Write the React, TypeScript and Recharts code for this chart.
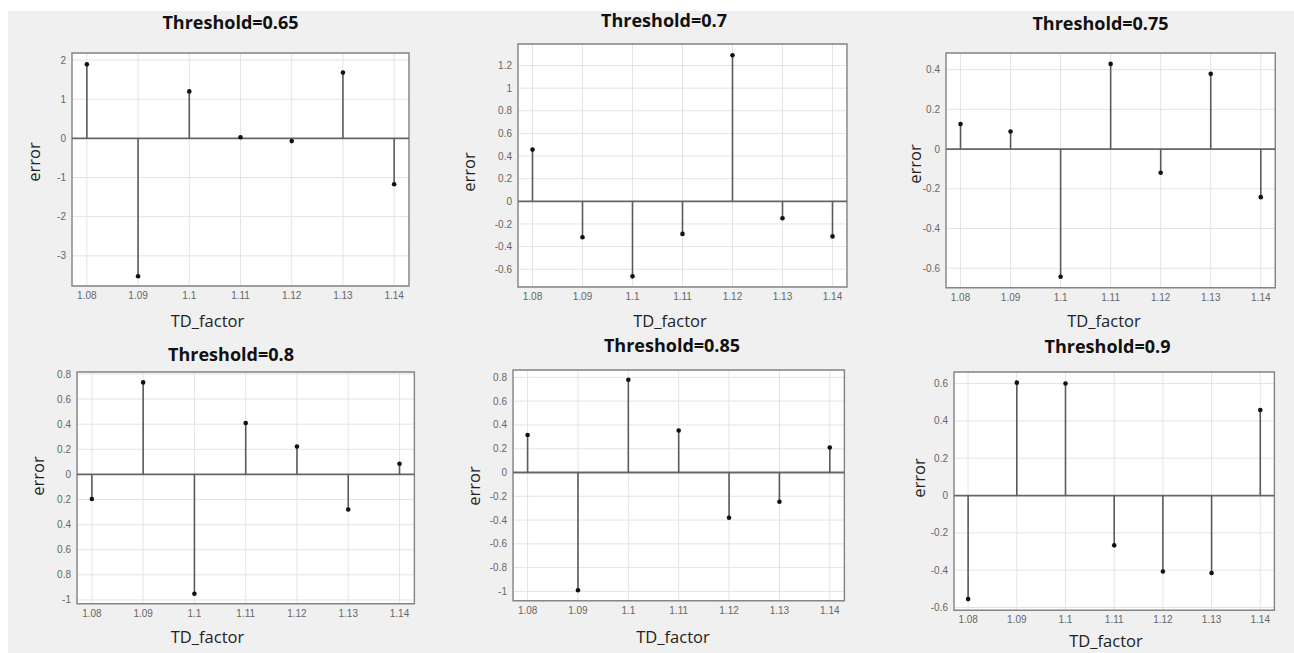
import React from 'react';
import {
  ComposedChart,
  Scatter,
  XAxis,
  YAxis,
  CartesianGrid,
  ReferenceLine,
  ReferenceArea,
} from 'recharts';

// ---------- data ----------
const tdFactors = [1.08, 1.09, 1.1, 1.11, 1.12, 1.13, 1.14];
const xTickLabels = ['1.08', '1.09', '1.1', '1.11', '1.12', '1.13', '1.14'];
const xDomain: [number, number] = [1.0771, 1.1429];

const thresholds = ['0.65', '0.7', '0.75', '0.8', '0.85', '0.9'];

const errors065 = [1.89, -3.52, 1.2, 0.03, -0.07, 1.68, -1.17];
const errors070 = [0.457, -0.318, -0.663, -0.288, 1.29, -0.15, -0.31];
const errors075 = [0.126, 0.089, -0.643, 0.429, -0.119, 0.379, -0.242];
const errors080 = [-0.196, 0.733, -0.951, 0.41, 0.223, -0.279, 0.085];
const errors085 = [0.316, -0.99, 0.78, 0.353, -0.38, -0.246, 0.21];
const errors090 = [-0.555, 0.605, 0.6, -0.267, -0.407, -0.415, 0.458];

const yTicks065 = [-3, -2, -1, 0, 1, 2];
const yLabels065 = ['-3', '-2', '-1', '0', '1', '2'];
const yTicks070 = [-0.6, -0.4, -0.2, 0, 0.2, 0.4, 0.6, 0.8, 1, 1.2];
const yLabels070 = ['-0.6', '-0.4', '-0.2', '0', '0.2', '0.4', '0.6', '0.8', '1', '1.2'];
const yTicks075 = [-0.6, -0.4, -0.2, 0, 0.2, 0.4];
const yLabels075 = ['-0.6', '-0.4', '-0.2', '0', '0.2', '0.4'];
const yTicks080 = [-1, -0.8, -0.6, -0.4, -0.2, 0, 0.2, 0.4, 0.6, 0.8];
const yLabels080 = ['-1', '0.8', '0.6', '0.4', '0.2', '0', '0.2', '0.4', '0.6', '0.8'];
const yTicks085 = [-1, -0.8, -0.6, -0.4, -0.2, 0, 0.2, 0.4, 0.6, 0.8];
const yLabels085 = ['-1', '-0.8', '-0.6', '-0.4', '-0.2', '0', '0.2', '0.4', '0.6', '0.8'];
const yTicks090 = [-0.6, -0.4, -0.2, 0, 0.2, 0.4, 0.6];
const yLabels090 = ['-0.6', '-0.4', '-0.2', '0', '0.2', '0.4', '0.6'];

const yDomains: [number, number][] = [
  [-3.77, 2.18],
  [-0.757, 1.39],
  [-0.698, 0.484],
  [-1.03, 0.816],
  [-1.078, 0.862],
  [-0.615, 0.662],
];

// ---------- layout ----------
type Box = { l: number; t: number; r: number; b: number };
type Pt = { x: number; y: number };
interface PanelCfg {
  title: string;
  errors: number[];
  yTicks: number[];
  yLabels: string[];
  yDomain: [number, number];
  box: Box;
  titlePos: Pt;
  ylabPos: Pt;
  xlabPos: Pt;
}

const panels: PanelCfg[] = [
  {
    title: 'Threshold=' + thresholds[0], errors: errors065, yTicks: yTicks065, yLabels: yLabels065, yDomain: yDomains[0],
    box: { l: 72, t: 53, r: 409, b: 286 }, titlePos: { x: 230.5, y: 21.5 }, ylabPos: { x: 33, y: 162 }, xlabPos: { x: 207.5, y: 320 },
  },
  {
    title: 'Threshold=' + thresholds[1], errors: errors070, yTicks: yTicks070, yLabels: yLabels070, yDomain: yDomains[1],
    box: { l: 517.7, t: 44.3, r: 846.7, b: 287.3 }, titlePos: { x: 664, y: 20 }, ylabPos: { x: 468, y: 172 }, xlabPos: { x: 670, y: 320 },
  },
  {
    title: 'Threshold=' + thresholds[2], errors: errors075, yTicks: yTicks075, yLabels: yLabels075, yDomain: yDomains[2],
    box: { l: 946, t: 53.3, r: 1275.3, b: 288 }, titlePos: { x: 1100.5, y: 23 }, ylabPos: { x: 914, y: 164 }, xlabPos: { x: 1104, y: 320 },
  },
  {
    title: 'Threshold=' + thresholds[3], errors: errors080, yTicks: yTicks080, yLabels: yLabels080, yDomain: yDomains[3],
    box: { l: 77.3, t: 372.3, r: 414.7, b: 604 }, titlePos: { x: 231, y: 353.5 }, ylabPos: { x: 37, y: 476 }, xlabPos: { x: 207.5, y: 636 },
  },
  {
    title: 'Threshold=' + thresholds[4], errors: errors085, yTicks: yTicks085, yLabels: yLabels085, yDomain: yDomains[4],
    box: { l: 513.3, t: 370.3, r: 844.7, b: 601 }, titlePos: { x: 672, y: 345 }, ylabPos: { x: 473, y: 486 }, xlabPos: { x: 673, y: 636 },
  },
  {
    title: 'Threshold=' + thresholds[5], errors: errors090, yTicks: yTicks090, yLabels: yLabels090, yDomain: yDomains[5],
    box: { l: 954.3, t: 371.7, r: 1274.7, b: 610 }, titlePos: { x: 1107.5, y: 346 }, ylabPos: { x: 918, y: 478 }, xlabPos: { x: 1106, y: 640 },
  },
];

const Y_W = 40;
const X_H = 26;
const M = 10;
const TICK_FONT = '"Liberation Sans", Arial, sans-serif';
const TEXT_FONT = '"Open Sans", "Noto Sans", sans-serif';

const labelFor = (ticks: number[], labels: string[]) => (v: number) => {
  const i = ticks.findIndex((t) => Math.abs(t - v) < 1e-9);
  return i >= 0 ? labels[i] : String(v);
};

function Panel({ cfg }: { cfg: PanelCfg }) {
  const w = cfg.box.r - cfg.box.l;
  const h = cfg.box.b - cfg.box.t;
  const data = tdFactors.map((x, i) => ({ x, y: cfg.errors[i] }));
  return (
    <div style={{ position: 'absolute', left: cfg.box.l - Y_W, top: cfg.box.t - M }}>
      <ComposedChart
        width={w + Y_W + M}
        height={h + X_H + M}
        data={data}
        margin={{ top: M, right: M, bottom: 0, left: 0 }}
      >
        <CartesianGrid stroke="#e4e4e4" strokeWidth={1} fill="#ffffff" fillOpacity={1} />
        <XAxis
          type="number"
          dataKey="x"
          domain={xDomain}
          ticks={tdFactors}
          interval={0}
          allowDataOverflow
          tickFormatter={labelFor(tdFactors, xTickLabels)}
          tickLine={false}
          axisLine={false}
          tickSize={0}
          tickMargin={6}
          height={X_H}
          tick={{ fill: '#666666', fontSize: 10, fontFamily: TICK_FONT }}
        />
        <YAxis
          type="number"
          dataKey="y"
          domain={cfg.yDomain}
          ticks={cfg.yTicks}
          interval={0}
          allowDataOverflow
          tickFormatter={labelFor(cfg.yTicks, cfg.yLabels)}
          tickLine={false}
          axisLine={false}
          tickSize={0}
          tickMargin={6}
          width={Y_W}
          tick={{ fill: '#666666', fontSize: 10, fontFamily: TICK_FONT }}
        />
        <ReferenceLine y={0} stroke="#666666" strokeWidth={1.8} />
        {data.map((d) => (
          <ReferenceLine
            key={d.x}
            segment={[
              { x: d.x, y: 0 },
              { x: d.x, y: d.y },
            ]}
            stroke="#5a5a5a"
            strokeWidth={1.6}
          />
        ))}
        <ReferenceArea
          x1={xDomain[0]}
          x2={xDomain[1]}
          y1={cfg.yDomain[0]}
          y2={cfg.yDomain[1]}
          fill="none"
          fillOpacity={0}
          stroke="#858585"
          strokeWidth={1.4}
        />
        <Scatter
          dataKey="y"
          isAnimationActive={false}
          shape={(p: any) => <circle cx={p.cx} cy={p.cy} r={2.3} fill="#111111" />}
        />
      </ComposedChart>
    </div>
  );
}

export default function App() {
  return (
    <div style={{ position: 'absolute', left: 0, top: 0, width: 1294, height: 653, background: '#ffffff', overflow: 'hidden' }}>
      <div style={{ position: 'absolute', left: 8, top: 11, width: 1286, height: 642, background: '#f0f0f0' }} />
      {panels.map((p, i) => (
        <Panel key={i} cfg={p} />
      ))}
      <svg width={1294} height={653} style={{ position: 'absolute', left: 0, top: 0, pointerEvents: 'none' }}>
        {panels.map((p, i) => (
          <g key={i}>
            <text
              x={p.titlePos.x}
              y={p.titlePos.y}
              textAnchor="middle"
              dominantBaseline="central"
              fontFamily={TEXT_FONT}
              fontWeight={700}
              fontSize={18}
              fill="#111111"
            >
              {p.title}
            </text>
            <text
              x={p.xlabPos.x}
              y={p.xlabPos.y}
              textAnchor="middle"
              dominantBaseline="central"
              fontFamily={TEXT_FONT}
              fontSize={16.5}
              fill="#222222"
            >
              TD_factor
            </text>
            <text
              x={p.ylabPos.x}
              y={p.ylabPos.y}
              textAnchor="middle"
              dominantBaseline="central"
              fontFamily={TEXT_FONT}
              fontSize={16.5}
              fill="#222222"
              transform={`rotate(-90 ${p.ylabPos.x} ${p.ylabPos.y})`}
            >
              error
            </text>
          </g>
        ))}
      </svg>
    </div>
  );
}
